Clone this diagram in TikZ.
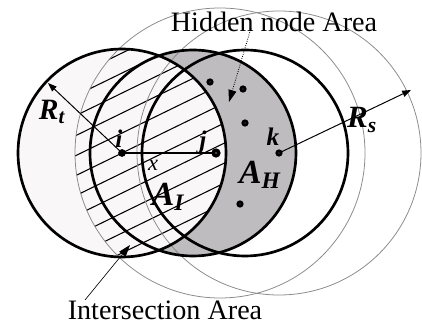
\documentclass[tikz,border=0pt]{standalone}
\usepackage{fontspec}
\setmainfont{Liberation Serif}
\usetikzlibrary{arrows.meta}
\definecolor{paleA}{HTML}{FAF7F8}
\definecolor{hidgray}{HTML}{BEBCBE}
\definecolor{rimgray}{HTML}{8A8A8A}
\tikzset{
  rangethick/.style={draw=black, line width=1.9pt},
  rangethin/.style ={draw=rimgray, line width=0.55pt},
  hatchln/.style   ={line width=0.75pt},
  soliddot/.style  ={circle, fill=black, inner sep=0pt, minimum size=#1},
  ringdot/.style   ={circle, draw=black, fill=paleA, line width=2pt, inner sep=0pt, minimum size=#1},
  ptrarr/.style    ={-{Triangle[length=2.2mm,width=1.6mm]}, line width=0.7pt},
  dotarr/.style    ={-{Triangle[length=3mm,width=2mm]}, line width=0.6pt, densely dotted},
  thinarr/.style   ={-{Triangle[length=3mm,width=2mm]}, line width=0.45pt},
  lbl/.style       ={font=\fontsize{20}{24}\selectfont, inner sep=0pt},
  symlbl/.style    ={font=\fontsize{#1}{#1}\selectfont\bfseries\itshape, inner sep=0pt},
}

\begin{document}
\begin{tikzpicture}[x=0.025cm, y=0.025cm]
\useasboundingbox (0,0) rectangle (422,329);
% ---- nodes and arrow ends
\coordinate (i) at (122,176);
\coordinate (j) at (216,176);
\coordinate (k) at (279,176);
\coordinate (rttip) at (48,246);
\coordinate (rstip) at (411,239);
\coordinate (hidfrom) at (251,301);
\coordinate (hidtip) at (229,227);
\coordinate (intfrom) at (85,29);
\coordinate (inttip) at (130,84);

% ---- shaded areas
\fill[hidgray] (193,176) circle[radius=103];
\fill[paleA] (i) circle[radius=104];
\begin{scope}
  \clip (i) circle[radius=104];
  \clip (220,176) circle[radius=145];
  \foreach \c in {-63.6,-43.6,...,276.4}
    \draw[hatchln] (0,\c) -- ({422},{\c+206});
\end{scope}

% ---- ranges
\draw[rangethin] (220,176) circle[radius=145];
\draw[rangethin] (k) circle[radius=142];
\draw[rangethick] (i) circle[radius=104];
\draw[rangethick] (193,176) circle[radius=103];
\draw[rangethick] (245,176) circle[radius=103];

% ---- distance and radii
\draw[line width=1.3pt] (i) -- (j);
\draw[ptrarr] (i) -- (rttip);
\draw[ptrarr] (k) -- (rstip);

% ---- nodes
\node[soliddot=5.5pt] (idot) at (i) {};
\node[ringdot=3.8pt, line width=2.6pt] (jdot) at (j) {};
\node[ringdot=3pt] (kdot) at (k) {};
\foreach \p/\q [count=\n] in {210/247, 243/240, 245/206, 240/125}
  \node[ringdot=3pt] (h\n) at (\p,\q) {};

% ---- labels
\node[lbl, anchor=base] (hidlbl) at (274,297) {Hidden node Area};
\node[lbl, anchor=base] (intlbl) at (165,9) {Intersection Area};
\draw[dotarr] (hidfrom) -- (hidtip);
\draw[thinarr] (intfrom) -- (inttip);

\node[symlbl=21] (rtlbl) at (52,217) {R\textsubscript{t}};
\node[symlbl=22] (rslbl) at (362,209) {R\textsubscript{s}};
\node[symlbl=24] (ahlbl) at (260,154) {A\textsubscript{H}};
\node[symlbl=24] (ailbl) at (168,132) {A\textsubscript{I}};
\node[font=\fontsize{16}{16}\selectfont\itshape, inner sep=0pt] (xlbl) at (153,164) {x};
\node[symlbl=18] (ilbl) at (119,190) {i};
\node[symlbl=18] (jlbl) at (203,187) {j};
\node[symlbl=18] (klbl) at (273,192) {k};
\end{tikzpicture}
\end{document}
